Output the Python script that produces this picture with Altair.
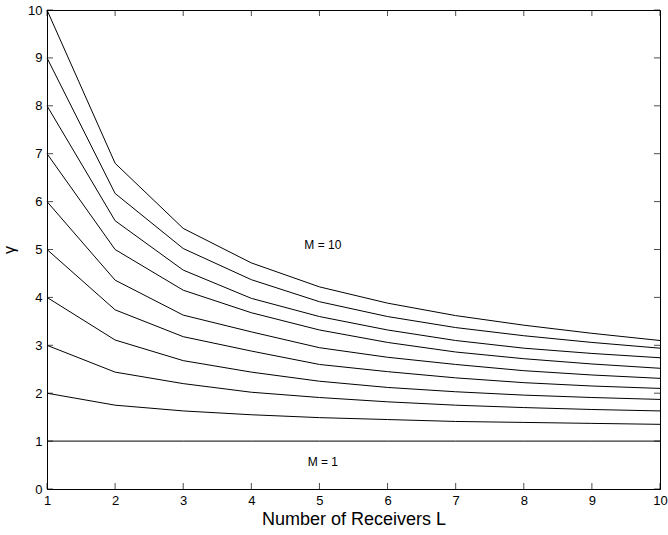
import altair as alt
import pandas as pd

L_values = [1, 2, 3, 4, 5, 6, 7, 8, 9, 10]
M_values = [1, 2, 3, 4, 5, 6, 7, 8, 9, 10]

gamma_M1 = [1, 1, 1, 1, 1, 1, 1, 1, 1, 1]
gamma_M2 = [2, 1.75, 1.63, 1.55, 1.49, 1.45, 1.41, 1.39, 1.37, 1.35]
gamma_M3 = [3, 2.44, 2.20, 2.02, 1.91, 1.82, 1.75, 1.70, 1.66, 1.63]
gamma_M4 = [4, 3.11, 2.68, 2.44, 2.25, 2.12, 2.03, 1.96, 1.91, 1.87]
gamma_M5 = [5, 3.74, 3.18, 2.88, 2.60, 2.45, 2.32, 2.22, 2.15, 2.10]
gamma_M6 = [6, 4.36, 3.63, 3.28, 2.95, 2.75, 2.60, 2.47, 2.38, 2.31]
gamma_M7 = [7, 5.00, 4.15, 3.68, 3.32, 3.06, 2.86, 2.72, 2.61, 2.52]
gamma_M8 = [8, 5.60, 4.57, 3.98, 3.60, 3.32, 3.10, 2.94, 2.83, 2.74]
gamma_M9 = [9, 6.17, 5.02, 4.37, 3.91, 3.60, 3.37, 3.20, 3.06, 2.94]
gamma_M10 = [10, 6.80, 5.44, 4.72, 4.22, 3.88, 3.62, 3.42, 3.25, 3.10]

series = [gamma_M1, gamma_M2, gamma_M3, gamma_M4, gamma_M5,
          gamma_M6, gamma_M7, gamma_M8, gamma_M9, gamma_M10]

x_ticks = [1, 2, 3, 4, 5, 6, 7, 8, 9, 10]
y_ticks = [0, 1, 2, 3, 4, 5, 6, 7, 8, 9, 10]

label_text = ["M = 10", "M = 1"]
label_L = [5.05, 5.05]
label_gamma = [5.1, 0.56]

rows = []
for m, vals in zip(M_values, series):
    for l, g in zip(L_values, vals):
        rows.append({"L": l, "M": m, "gamma": g})
df = pd.DataFrame(rows)

FONT = "Liberation Sans"

xscale = alt.Scale(domain=[1, 10], nice=False, zero=False)
yscale = alt.Scale(domain=[0, 10], nice=False, zero=False)

lines = alt.Chart(df).mark_line(color="black", strokeWidth=1).encode(
    x=alt.X("L:Q", scale=xscale,
            axis=alt.Axis(values=x_ticks, format="d", title="Number of Receivers L",
                          tickSize=0, labelPadding=5, grid=False,
                          titleFontSize=18, titleFontWeight="normal",
                          titlePadding=3, domainColor="black",
                          labelFlush=False)),
    y=alt.Y("gamma:Q", scale=yscale,
            axis=alt.Axis(values=y_ticks, format="d", title="γ", tickSize=0,
                          labelPadding=5, grid=False, titleFontSize=16,
                          titleFontWeight="normal", titlePadding=10,
                          domainColor="black", labelFlush=False)),
    detail="M:N",
)

labels_df = pd.DataFrame({"text": label_text, "L": label_L, "gamma": label_gamma})
labels = alt.Chart(labels_df).mark_text(font=FONT, fontSize=12, color="black").encode(
    x=alt.X("L:Q", scale=xscale), y=alt.Y("gamma:Q", scale=yscale), text="text:N")

xt = pd.DataFrame({"L": x_ticks})
yt = pd.DataFrame({"gamma": y_ticks})

tick_bottom = alt.Chart(xt).mark_tick(orient="vertical", size=6, yOffset=-3, color="black", thickness=1).encode(
    x=alt.X("L:Q", scale=xscale), y=alt.datum(0, scale=yscale))
tick_top = alt.Chart(xt).mark_tick(orient="vertical", size=6, yOffset=3, color="black", thickness=1).encode(
    x=alt.X("L:Q", scale=xscale), y=alt.datum(10, scale=yscale))
tick_left = alt.Chart(yt).mark_tick(orient="horizontal", size=6, xOffset=3, color="black", thickness=1).encode(
    y=alt.Y("gamma:Q", scale=yscale), x=alt.datum(1, scale=xscale))
tick_right = alt.Chart(yt).mark_tick(orient="horizontal", size=6, xOffset=-3, color="black", thickness=1).encode(
    y=alt.Y("gamma:Q", scale=yscale), x=alt.datum(10, scale=xscale))

chart = alt.layer(lines, labels, tick_bottom, tick_top, tick_left, tick_right).properties(
    width=613, height=479,
    autosize=alt.AutoSizeParams(type="none"),
    padding={"left": 47, "top": 10, "right": 8, "bottom": 46},
    background="white",
).configure_view(stroke="black", strokeWidth=1).configure_axis(
    labelFont=FONT, titleFont=FONT, labelFontSize=13, labelColor="black",
    titleColor="black", domainWidth=1
)

chart.save("out.html", embed_options={"renderer": "svg", "actions": False})
